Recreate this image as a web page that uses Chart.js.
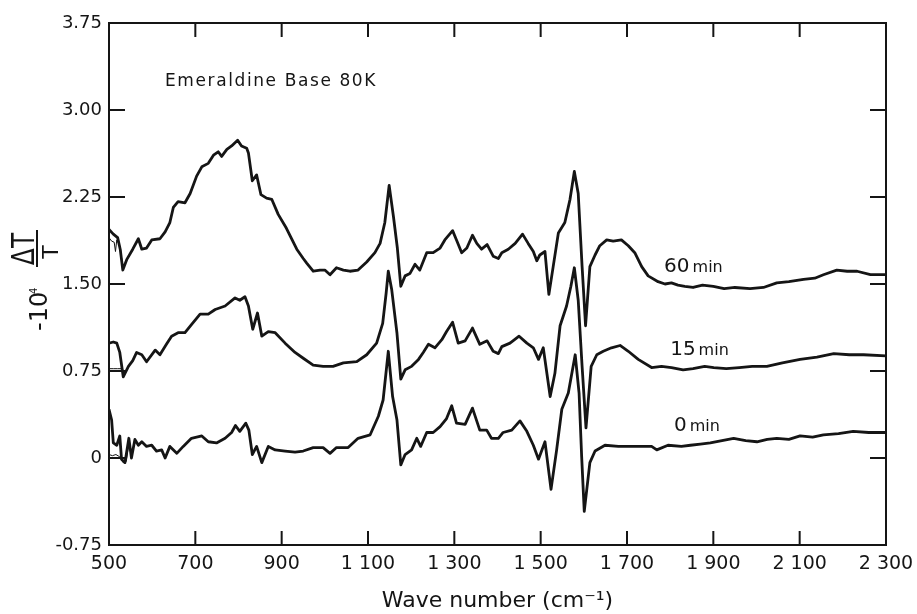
<!DOCTYPE html>
<html>
<head>
<meta charset="utf-8">
<title>Emeraldine Base 80K</title>
<script src="https://cdn.jsdelivr.net/npm/chart.js@4.4.1/dist/chart.umd.min.js"></script>
<style>
    html, body { margin: 0; padding: 0; background: #fff; }
    #wrap { width: 917px; height: 614px; }
</style>
</head>
<body>
<div id="wrap"><canvas id="irChart" width="917" height="614"></canvas></div>
<script>
// axis ticks
const xTickValues = [500, 700, 900, 1100, 1300, 1500, 1700, 1900, 2100, 2300];
const xTickLabels = ['500', '700', '900', '1 100', '1 300', '1 500', '1 700', '1 900', '2 100', '2 300'];
const yTickValues = [-0.75, 0, 0.75, 1.5, 2.25, 3.0, 3.75];
const yTickLabels = ['-0.75', '0', '0.75', '1.50', '2.25', '3.00', '3.75'];

// 60 min spectrum
const wn60 = [500, 510, 520, 526, 532, 541, 555, 568, 576, 587, 599, 618, 630, 641, 649, 660, 676, 688, 703, 715,
    730, 742, 753, 761, 773, 784, 798, 807, 819, 823, 832, 842, 852, 865, 877, 892, 911, 935, 950, 958,
    973, 989, 1000, 1012, 1027, 1043, 1058, 1077, 1097, 1116, 1128, 1139, 1149, 1159, 1168, 1176, 1186, 1197, 1209, 1220,
    1236, 1251, 1267, 1278, 1296, 1305, 1317, 1329, 1342, 1352, 1363, 1376, 1390, 1402, 1410, 1425, 1441, 1458, 1471, 1483,
    1491, 1498, 1510, 1519, 1529, 1541, 1556, 1568, 1578, 1587, 1596, 1604, 1614, 1626, 1637, 1653, 1668, 1687, 1703, 1718,
    1734, 1749, 1772, 1788, 1803, 1818, 1834, 1853, 1875, 1900, 1925, 1950, 1985, 2016, 2047, 2075, 2109, 2135, 2155, 2186,
    2210, 2233, 2264, 2300];
const dT60 = [1.97, 1.93, 1.90, 1.80, 1.62, 1.71, 1.80, 1.89, 1.80, 1.81, 1.88, 1.89, 1.95, 2.03, 2.16, 2.21, 2.20, 2.28, 2.43, 2.51,
    2.54, 2.61, 2.64, 2.60, 2.66, 2.69, 2.74, 2.69, 2.67, 2.63, 2.39, 2.44, 2.27, 2.24, 2.23, 2.10, 1.98, 1.80, 1.72, 1.68,
    1.61, 1.62, 1.62, 1.58, 1.64, 1.62, 1.61, 1.62, 1.69, 1.77, 1.85, 2.03, 2.35, 2.08, 1.81, 1.48, 1.57, 1.59, 1.67, 1.62,
    1.77, 1.77, 1.81, 1.88, 1.96, 1.88, 1.77, 1.81, 1.92, 1.85, 1.80, 1.84, 1.74, 1.72, 1.77, 1.80, 1.85, 1.93, 1.85, 1.78,
    1.70, 1.75, 1.78, 1.41, 1.65, 1.94, 2.03, 2.23, 2.47, 2.28, 1.65, 1.14, 1.65, 1.75, 1.83, 1.88, 1.87, 1.88, 1.83, 1.77,
    1.65, 1.57, 1.52, 1.50, 1.51, 1.49, 1.48, 1.47, 1.49, 1.48, 1.46, 1.47, 1.46, 1.47, 1.51, 1.52, 1.54, 1.55, 1.58, 1.62,
    1.61, 1.61, 1.58, 1.58];
const wn60thin = [500, 506, 512, 515, 518, 526, 532];
const dT60thin = [1.90, 1.87, 1.86, 1.78, 1.88, 1.82, 1.64];

// 15 min spectrum
const wn15 = [500, 510, 518, 525, 533, 545, 555, 564, 576, 587, 607, 618, 633, 645, 660, 676, 691, 711, 730, 746,
    769, 792, 803, 815, 823, 833, 844, 854, 869, 885, 908, 931, 950, 973, 996, 1019, 1043, 1074, 1097, 1120,
    1134, 1142, 1147, 1155, 1167, 1176, 1186, 1201, 1217, 1228, 1240, 1255, 1271, 1282, 1296, 1309, 1325, 1342, 1359, 1376,
    1390, 1402, 1410, 1429, 1450, 1468, 1483, 1495, 1506, 1522, 1533, 1545, 1560, 1570, 1578, 1587, 1596, 1605, 1617, 1630,
    1645, 1664, 1684, 1703, 1726, 1757, 1780, 1803, 1830, 1853, 1880, 1901, 1930, 1960, 1990, 2024, 2060, 2101, 2140, 2179,
    2215, 2248, 2300];
const dT15 = [0.99, 1.00, 0.99, 0.91, 0.70, 0.79, 0.84, 0.91, 0.89, 0.83, 0.93, 0.89, 0.98, 1.05, 1.08, 1.08, 1.15, 1.24, 1.24, 1.28,
    1.31, 1.38, 1.36, 1.39, 1.31, 1.11, 1.25, 1.05, 1.09, 1.08, 0.99, 0.91, 0.86, 0.80, 0.79, 0.79, 0.82, 0.83, 0.89, 0.99,
    1.16, 1.42, 1.61, 1.45, 1.08, 0.68, 0.76, 0.79, 0.85, 0.91, 0.98, 0.95, 1.02, 1.09, 1.17, 0.99, 1.01, 1.12, 0.98, 1.01,
    0.92, 0.90, 0.96, 0.99, 1.05, 0.99, 0.95, 0.85, 0.95, 0.53, 0.73, 1.14, 1.31, 1.48, 1.64, 1.36, 0.79, 0.26, 0.79, 0.89,
    0.92, 0.95, 0.97, 0.92, 0.85, 0.78, 0.79, 0.78, 0.76, 0.77, 0.79, 0.78, 0.77, 0.78, 0.79, 0.79, 0.82, 0.85, 0.87, 0.90,
    0.89, 0.89, 0.88];
const wn15thin = [500, 510, 520, 530, 537];
const dT15thin = [0.77, 0.77, 0.77, 0.77, 0.74];

// 0 min spectrum
const wn0 = [500, 506, 510, 518, 525, 529, 537, 546, 552, 560, 568, 576, 587, 599, 610, 622, 630, 641, 657, 672,
    691, 715, 730, 749, 769, 784, 793, 803, 817, 824, 832, 842, 854, 869, 885, 908, 931, 950, 973, 996,
    1012, 1027, 1054, 1077, 1105, 1124, 1135, 1147, 1157, 1167, 1176, 1186, 1201, 1213, 1222, 1236, 1251, 1267, 1282, 1294,
    1305, 1325, 1342, 1359, 1375, 1386, 1402, 1413, 1433, 1452, 1468, 1483, 1495, 1510, 1524, 1537, 1549, 1564, 1580, 1589,
    1595, 1601, 1614, 1626, 1649, 1680, 1718, 1757, 1769, 1795, 1826, 1847, 1870, 1893, 1920, 1947, 1975, 2001, 2025, 2047,
    2075, 2101, 2130, 2155, 2190, 2224, 2260, 2300];
const dT0 = [0.42, 0.33, 0.13, 0.11, 0.19, -0.01, -0.04, 0.17, 0.00, 0.16, 0.11, 0.14, 0.10, 0.11, 0.06, 0.07, 0.00, 0.10, 0.04, 0.10,
    0.17, 0.19, 0.14, 0.13, 0.17, 0.22, 0.28, 0.23, 0.30, 0.24, 0.03, 0.10, -0.04, 0.10, 0.07, 0.06, 0.05, 0.06, 0.09, 0.09,
    0.04, 0.09, 0.09, 0.17, 0.20, 0.36, 0.50, 0.92, 0.53, 0.33, -0.06, 0.03, 0.07, 0.17, 0.10, 0.22, 0.22, 0.27, 0.34, 0.45,
    0.30, 0.29, 0.43, 0.24, 0.24, 0.17, 0.17, 0.22, 0.24, 0.32, 0.23, 0.11, -0.01, 0.14, -0.27, 0.07, 0.42, 0.56, 0.89, 0.56,
    0.01, -0.46, -0.04, 0.06, 0.11, 0.10, 0.10, 0.10, 0.07, 0.11, 0.10, 0.11, 0.12, 0.13, 0.15, 0.17, 0.15, 0.14, 0.16, 0.17,
    0.16, 0.19, 0.18, 0.20, 0.21, 0.23, 0.22, 0.22];
const wn0thin = [500, 508, 516, 525, 533, 540, 546];
const dT0thin = [0.03, 0.02, 0.03, 0.01, -0.04, -0.03, 0.12];

// curve labels, placed in data coordinates
const curveNames = ['60', '15', '0'];
const curveLabelWn = [1786, 1800, 1809];
const curveLabelDT = [1.60, 0.89, 0.235];

const FONT = "'DejaVu Sans', 'Open Sans', sans-serif";
const INK = '#151515';

function toPoints(xs, ys) {
    return xs.map((x, i) => ({ x: x, y: ys[i] }));
}

function curve(xs, ys, width) {
    return {
        data: toPoints(xs, ys),
        borderColor: INK,
        borderWidth: width,
        borderJoinStyle: 'round',
        pointRadius: 0,
        tension: 0,
        fill: false
    };
}

// frame, inward ticks and free text
const paperDecor = {
    id: 'paperDecor',
    afterDraw(chart) {
        const { ctx, chartArea: a, scales: { x, y } } = chart;
        ctx.save();
        ctx.strokeStyle = INK;
        ctx.fillStyle = INK;
        ctx.lineWidth = 2;
        ctx.strokeRect(a.left, a.top, a.right - a.left, a.bottom - a.top);

        ctx.beginPath();
        xTickValues.slice(1, -1).forEach(v => {
            const px = x.getPixelForValue(v);
            ctx.moveTo(px, a.bottom);
            ctx.lineTo(px, a.bottom - 14);
            ctx.moveTo(px, a.top);
            ctx.lineTo(px, a.top + 14);
        });
        yTickValues.slice(1, -1).forEach(v => {
            const py = y.getPixelForValue(v);
            ctx.moveTo(a.left, py);
            ctx.lineTo(a.left + 16, py);
            ctx.moveTo(a.right, py);
            ctx.lineTo(a.right - 16, py);
        });
        ctx.stroke();

        // title inside the plot
        ctx.font = '17px ' + FONT;
        ctx.letterSpacing = '1.6px';
        ctx.textAlign = 'left';
        ctx.textBaseline = 'middle';
        ctx.fillText('Emeraldine Base 80K', a.left + 56, a.top + 59);
        ctx.letterSpacing = '0px';

        // curve labels
        ctx.textBaseline = 'alphabetic';
        curveNames.forEach((name, i) => {
            const px = x.getPixelForValue(curveLabelWn[i]);
            const py = y.getPixelForValue(curveLabelDT[i]);
            ctx.font = '20px ' + FONT;
            ctx.fillText(name, px, py);
            const w = ctx.measureText(name).width;
            ctx.font = '16px ' + FONT;
            ctx.fillText('min', px + w + 3, py);
        });

        // y axis label: -10^4 dT/T, rotated
        ctx.translate(37, 283);
        ctx.rotate(-Math.PI / 2);
        ctx.font = '24px ' + FONT;
        ctx.textAlign = 'left';
        ctx.fillText('-10', -48, 10);
        ctx.font = '10px ' + FONT;
        ctx.fillText('4', -11, 0);
        ctx.beginPath();
        ctx.moveTo(16, 0);
        ctx.lineTo(53, 0);
        ctx.stroke();
        ctx.font = '22px ' + FONT;
        ctx.textAlign = 'center';
        ctx.fillText('T', 31, 21);
        ctx.save();
        ctx.translate(34, -3);
        ctx.scale(0.78, 1);
        ctx.font = '32px ' + FONT;
        ctx.fillText('ΔT', 0, 0);
        ctx.restore();
        ctx.restore();
    }
};

new Chart(document.getElementById('irChart'), {
    type: 'line',
    data: {
        datasets: [
            curve(wn60, dT60, 2.8),
            curve(wn60thin, dT60thin, 1),
            curve(wn15, dT15, 2.8),
            curve(wn15thin, dT15thin, 1),
            curve(wn0, dT0, 2.8),
            curve(wn0thin, dT0thin, 1)
        ]
    },
    options: {
        responsive: false,
        animation: false,
        layout: { padding: { top: 23, right: 31, left: 0, bottom: 0 } },
        plugins: {
            legend: { display: false },
            tooltip: { enabled: false }
        },
        scales: {
            x: {
                type: 'linear',
                min: 500,
                max: 2300,
                grid: { display: false, drawTicks: false },
                border: { display: false },
                afterBuildTicks: s => { s.ticks = xTickValues.map(v => ({ value: v })); },
                afterFit: s => {
                    s.height = 69;
                    s.paddingLeft = 0;
                    s.paddingRight = 0;
                },
                ticks: {
                    padding: 8,
                    color: INK,
                    autoSkip: false,
                    maxRotation: 0,
                    font: { family: FONT, size: 19 },
                    callback: v => xTickLabels[xTickValues.indexOf(v)]
                },
                title: {
                    display: true,
                    text: 'Wave number (cm⁻¹)',
                    color: INK,
                    padding: 0,
                    font: { family: FONT, size: 22 }
                }
            },
            y: {
                type: 'linear',
                min: -0.75,
                max: 3.75,
                grid: { display: false, drawTicks: false },
                border: { display: false },
                afterBuildTicks: s => { s.ticks = yTickValues.map(v => ({ value: v })); },
                afterFit: s => {
                    s.width = 109;
                    s.paddingTop = 0;
                    s.paddingBottom = 0;
                },
                ticks: {
                    padding: 7,
                    color: INK,
                    autoSkip: false,
                    font: { family: FONT, size: 18 },
                    callback: v => yTickLabels[yTickValues.indexOf(v)]
                }
            }
        }
    },
    plugins: [paperDecor]
});
</script>
</body>
</html>
